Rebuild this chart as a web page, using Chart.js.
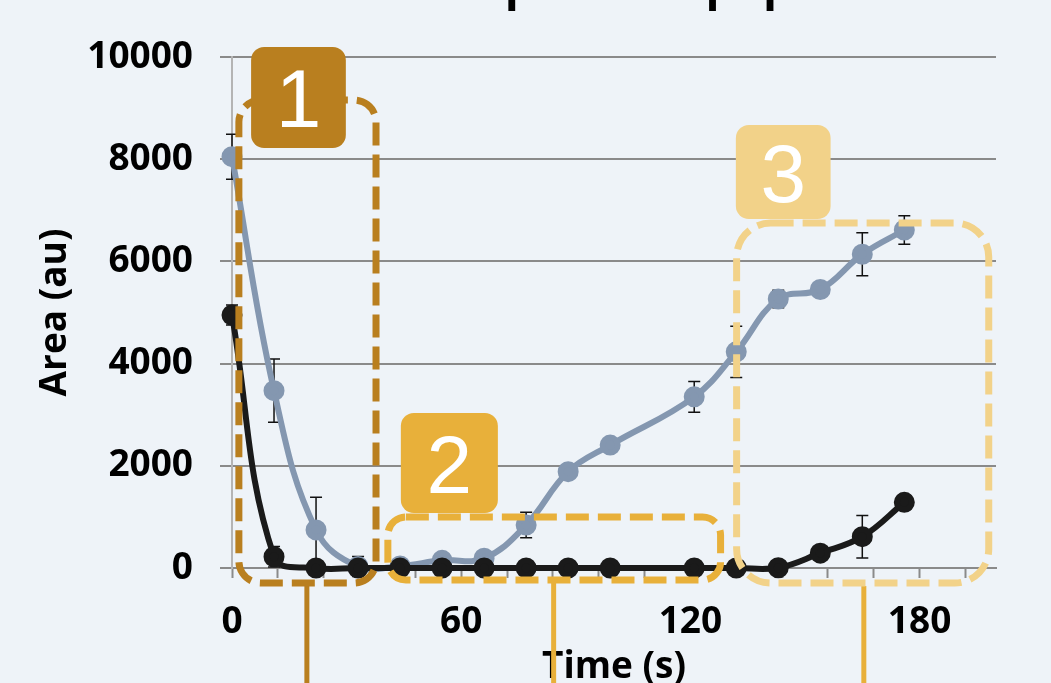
<!DOCTYPE html>
<html>
<head>
<meta charset="utf-8">
<script src="https://cdn.jsdelivr.net/npm/chart.js@4"></script>
<style>
  html, body { margin: 0; padding: 0; background: #eef3f8; }
  canvas { display: block; }
</style>
</head>
<body>
<canvas id="areaChart" width="1051" height="683"></canvas>
<script>
// Time points (s)
const timeS = [0, 11, 22, 33, 44, 55, 66, 77, 88, 99, 121, 132, 143, 154, 165, 176];

// Blue-grey series and its error bars
const blueArea = [8050, 3470, 745, 30, 40, 150, 190, 840, 1885, 2405, 3350, 4230, 5265, 5450, 6140, 6615];
const blueErr  = [440, 620, 640, 195, 0, 100, 0, 250, 40, 40, 300, 500, 170, 0, 420, 280];

// Black series and its error bars
const blackArea = [4950, 220, 0, 0, 0, 0, 0, 0, 0, 0, 0, 0, 5, 290, 613, 1285];
const blackErr  = [195, 200, 0, 0, 0, 0, 0, 0, 0, 0, 0, 0, 0, 0, 415, 150];

// Axis ticks
const xTickValues = [0, 12, 24, 36, 48, 60, 72, 84, 96, 108, 120, 132, 144, 156, 168, 180, 192];
const xLabelValues = [0, 60, 120, 180];
const yTickValues = [0, 2000, 4000, 6000, 8000, 10000];

const axisFont = { family: 'Open Sans', size: 37, weight: 'bold' };
const gridGrey = '#8a8a8a';

// Highlight regions (in data units) and their numbered tags
const regions = [
  { tag: '1', color: '#b97f1f', lineColor: '#b97f1f', x0: 1.8, x1: 37.7, y0: 9158, y1: -294, r: 22,
    tx0: 5.0, tx1: 29.8, ty0: 10196, ty1: 8219, lineX: 19.6 },
  { tag: '2', color: '#e8b03a', lineColor: '#e8b03a', x0: 40.8, x1: 127.9, y0: 998, y1: -235, r: 18,
    tx0: 44.2, tx1: 69.6, ty0: 3033, ty1: 1076, lineX: 84.2 },
  { tag: '3', color: '#f2d289', lineColor: '#e8b03a', x0: 132.1, x1: 198.1, y0: 6751, y1: -294, r: 34,
    tx0: 131.9, tx1: 156.7, ty0: 8669, ty1: 6830, lineX: 165.4 }
];

// error bars are drawn under the lines
const errorBars = {
  id: 'errorBars',
  beforeDatasetsDraw(chart) {
    const ctx = chart.ctx;
    const xs = chart.scales.x, ys = chart.scales.y;
    ctx.save();
    ctx.strokeStyle = '#111';
    ctx.lineWidth = 1.5;
    [[blueArea, blueErr], [blackArea, blackErr]].forEach(([vals, errs]) => {
      vals.forEach((v, i) => {
        if (!errs[i]) return;
        const px = xs.getPixelForValue(timeS[i]);
        const top = ys.getPixelForValue(v + errs[i]);
        const bot = ys.getPixelForValue(v - errs[i]);
        ctx.beginPath();
        ctx.moveTo(px, top); ctx.lineTo(px, bot);
        ctx.moveTo(px - 6, top); ctx.lineTo(px + 6, top);
        ctx.moveTo(px - 6, bot); ctx.lineTo(px + 6, bot);
        ctx.stroke();
      });
    });
    ctx.restore();
  }
};

// dashed rounded boxes, numbered tags and the connector lines below
const regionMarks = {
  id: 'regionMarks',
  afterDatasetsDraw(chart) {
    const ctx = chart.ctx;
    const xs = chart.scales.x, ys = chart.scales.y;
    ctx.save();
    regions.forEach(rg => {
      const left = xs.getPixelForValue(rg.x0), right = xs.getPixelForValue(rg.x1);
      const top = ys.getPixelForValue(rg.y0), bottom = ys.getPixelForValue(rg.y1);

      // connector line down to the bottom edge
      const lx = xs.getPixelForValue(rg.lineX);
      ctx.strokeStyle = rg.lineColor;
      ctx.lineWidth = 5;
      ctx.setLineDash([]);
      ctx.beginPath();
      ctx.moveTo(lx, bottom + 3); ctx.lineTo(lx, chart.height);
      ctx.stroke();

      ctx.strokeStyle = rg.color;
      ctx.lineWidth = 7;
      ctx.setLineDash([23, 9]);
      ctx.beginPath();
      ctx.roundRect(left, top, right - left, bottom - top, rg.r);
      ctx.stroke();

      const tl = xs.getPixelForValue(rg.tx0), tr = xs.getPixelForValue(rg.tx1);
      const tt = ys.getPixelForValue(rg.ty0), tb = ys.getPixelForValue(rg.ty1);
      ctx.setLineDash([]);
      ctx.fillStyle = rg.color;
      ctx.beginPath();
      ctx.roundRect(tl, tt, tr - tl, tb - tt, 13);
      ctx.fill();
      ctx.fillStyle = '#ffffff';
      ctx.font = '82px "Liberation Sans"';
      ctx.textAlign = 'center';
      ctx.textBaseline = 'alphabetic';
      ctx.fillText(rg.tag, (tl + tr) / 2, (tt + tb) / 2 + 30);
    });

    // chart title, mostly cut off at the top edge
    ctx.fillStyle = '#000';
    ctx.font = 'bold 46px "Open Sans"';
    ctx.textAlign = 'left';
    ctx.fillText('Uptake in population', 470, 0);
    ctx.restore();
  }
};

const ctx = document.getElementById('areaChart').getContext('2d');

new Chart(ctx, {
  type: 'line',
  data: {
    datasets: [
      {
        label: 'Black',
        data: timeS.map((t, i) => ({ x: t, y: blackArea[i] })),
        borderColor: '#1a1a1a',
        backgroundColor: '#1a1a1a',
        borderWidth: 6,
        pointRadius: 7.5,
        pointHoverRadius: 7.5,
        tension: 0.4,
        clip: false
      },
      {
        label: 'Blue',
        data: timeS.map((t, i) => ({ x: t, y: blueArea[i] })),
        borderColor: '#8497b0',
        backgroundColor: '#8497b0',
        borderWidth: 6,
        pointRadius: 7.5,
        pointHoverRadius: 7.5,
        tension: 0.4,
        clip: false
      }
    ]
  },
  options: {
    responsive: false,
    animation: false,
    devicePixelRatio: 1,
    layout: { padding: { top: 57, right: 55, left: 0, bottom: 0 } },
    elements: { line: { capBezierPoints: false } },
    plugins: { legend: { display: false }, tooltip: { enabled: false } },
    scales: {
      x: {
        type: 'linear',
        min: 0,
        max: 200,
        afterBuildTicks: (scale) => { scale.ticks = xTickValues.map(v => ({ value: v })); },
        afterFit: (scale) => { scale.height = 115; },
        ticks: {
          autoSkip: false,
          maxRotation: 0,
          padding: 22,
          color: '#000',
          font: axisFont,
          callback: (v) => xLabelValues.includes(v) ? String(v) : ''
        },
        grid: { drawOnChartArea: false, tickLength: 10, tickColor: gridGrey, tickWidth: 2 },
        border: { color: gridGrey, width: 2 },
        title: { display: true, text: 'Time (s)', color: '#000', font: axisFont, padding: { top: 0, bottom: -7 } }
      },
      y: {
        min: 0,
        max: 10000,
        afterBuildTicks: (scale) => { scale.ticks = yTickValues.map(v => ({ value: v })); },
        afterFit: (scale) => { scale.width = 232; },
        ticks: { padding: 27, color: '#000', font: axisFont, callback: (v) => String(v) },
        grid: { color: gridGrey, lineWidth: 2, tickLength: 12 },
        border: { color: '#b4b4b4', width: 2 },
        title: { display: true, text: 'Area (au)', color: '#000', font: axisFont, padding: { top: 33, bottom: 0 } }
      }
    }
  },
  plugins: [errorBars, regionMarks]
});
</script>
</body>
</html>
